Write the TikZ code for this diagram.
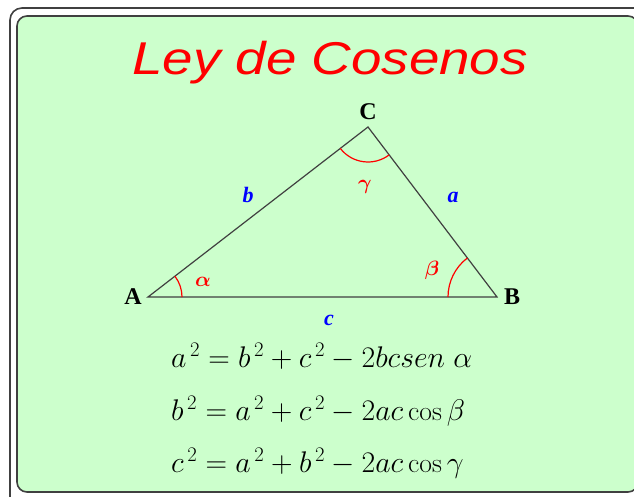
\documentclass[tikz,border=0pt]{standalone}
\usepackage{amsmath,amssymb}
\usepackage{graphicx}
\usepackage{fontspec}
\usepackage{tikz}
\usetikzlibrary{angles,calc}
\newfontfamily\titlefont{Liberation Sans}
\newfontfamily\letterfont{Liberation Serif}
\definecolor{boardgreen}{HTML}{CCFFCC}
\definecolor{framegray}{HTML}{404040}
\definecolor{sideblue}{HTML}{0000FF}
\definecolor{anglered}{HTML}{FF0000}

\begin{document}
\begin{tikzpicture}[x=1pt,y=1pt,
    vertex/.style={font=\letterfont\bfseries\fontsize{24}{26}\selectfont},
    side/.style={text=sideblue,font=\letterfont\bfseries\itshape\fontsize{22}{24}\selectfont},
    anglelabel/.style={text=anglered,font=\fontsize{22}{24}\selectfont},
    arcmark/.style={draw=anglered,line width=1.2pt},
    eqn/.style={anchor=base west,font=\fontsize{23}{28}\selectfont,scale=1.2,transform shape}]
        \useasboundingbox (0,0) rectangle (634,496);
        % frame
        \draw[framegray,line width=1.6pt,rounded corners=12pt] (10,-20) rectangle (660,488);
        \draw[framegray,fill=boardgreen,line width=1.6pt,rounded corners=10pt] (17,4) rectangle (638,480);
        \node[anchor=base,text=anglered] (title) at (330,421)
            {\titlefont\itshape\fontsize{46}{50}\selectfont\scalebox{1.19}[1]{Ley de Cosenos}};
        % triangle
        \coordinate (A) at (148,199);
        \coordinate (B) at (497,199);
        \coordinate (C) at (368,369);
        \draw[framegray,line width=1.2pt] (A) -- (B) -- (C) -- cycle;
        \pic[arcmark,angle radius=34pt] {angle=B--A--C};
        \pic[arcmark,angle radius=49pt] {angle=C--B--A};
        \pic[arcmark,angle radius=35pt] {angle=A--C--B};
        \node[vertex] (labA) at (133,199) {A};
        \node[vertex] (labB) at (512,199) {B};
        \node[vertex] (labC) at (368,384) {C};
        \node[side] (sidea) at (453,299) {a};
        \node[side] (sideb) at (248,301) {b};
        \node[side] (sidec) at (329,176) {c};
        \node[anglelabel] (alpha) at (203,214) {$\boldsymbol{\alpha}$};
        \node[anglelabel] (beta) at (432,226) {$\boldsymbol{\beta}$};
        \node[anglelabel] (gamma) at (365,309) {$\boldsymbol{\gamma}$};
        % equations
        \node[eqn] (eqa) at (167,129) {$a^{\,2}=b^{\,2}+c^{\,2}-2bcsen\ \alpha$};
        \node[eqn] (eqb) at (167,76) {$b^{\,2}=a^{\,2}+c^{\,2}-2ac\cos\beta$};
        \node[eqn] (eqc) at (167,24) {$c^{\,2}=a^{\,2}+b^{\,2}-2ac\cos\gamma$};
      \end{tikzpicture}
\end{document}
